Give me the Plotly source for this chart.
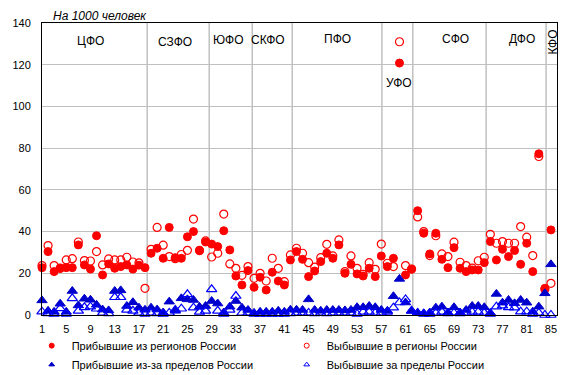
import plotly.graph_objects as go

regions = list(range(1, 86))

arrived_regions = [22.7, 30.4, 20.8, 22.3, 22.7, 22.7, 33.6, 24.0, 22.0, 38.0,
                   19.2, 24.5, 22.4, 23.2, 24.0, 22.0, 23.9, 22.7, 29.6, 32.0,
                   27.2, 42.0, 27.5, 27.2, 37.5, 40.0, 30.8, 35.0, 34.0, 32.8,
                   40.4, 31.2, 18.7, 14.4, 21.3, 13.3, 18.1, 12.0, 20.5, 16.3,
                   14.4, 26.4, 30.4, 26.7, 18.4, 21.1, 25.6, 29.6, 27.2, 33.6,
                   20.0, 24.3, 19.7, 18.7, 22.4, 18.4, 28.3, 23.2, 27.2, 120.8,
                   19.2, 22.0, 50.0, 39.2, 29.3, 39.2, 26.7, 22.7, 32.3, 22.4,
                   20.8, 21.6, 21.6, 25.1, 35.2, 26.4, 31.5, 28.0, 30.9, 24.3,
                   34.4, 20.8, 77.3, 12.8, 40.8]

left_regions = [23.7, 33.3, 23.7, 22.5, 26.4, 27.0, 35.0, 26.1, 25.9, 30.4,
                24.0, 26.9, 26.4, 26.4, 27.7, 25.4, 25.0, 12.8, 31.5, 42.0,
                33.5, 28.0, 27.0, 29.0, 31.0, 46.0, 31.0, 35.5, 27.8, 29.6,
                48.4, 24.5, 22.4, 19.0, 23.2, 17.6, 20.0, 16.3, 27.2, 22.4,
                16.0, 28.8, 32.0, 29.6, 25.1, 23.0, 27.5, 33.9, 28.3, 36.0,
                20.8, 28.3, 22.4, 19.5, 25.1, 21.9, 34.0, 24.8, 23.2, 131.0,
                23.7, 22.0, 47.0, 40.0, 28.5, 38.0, 29.3, 28.0, 34.9, 25.3,
                23.7, 22.5, 26.0, 27.7, 38.7, 34.4, 35.2, 34.4, 34.4, 42.4,
                37.3, 28.5, 76.0, 12.3, 15.2]

arrived_abroad = [7.0, 2.0, 1.5, 5.4, 1.5, 11.5, 4.6, 7.8, 7.3, 4.9,
                  2.6, 2.2, 11.5, 11.8, 4.3, 6.1, 3.5, 2.5, 3.5, 2.6,
                  1.2, 6.4, 2.0, 8.0, 7.5, 7.2, 3.9, 4.3, 6.7, 5.5,
                  1.2, 4.0, 6.7, 3.5, 2.4, 1.0, 1.5, 1.5, 1.5, 2.0,
                  1.5, 2.5, 2.5, 2.4, 7.5, 2.4, 2.0, 2.4, 2.4, 2.4,
                  2.2, 2.4, 3.7, 3.7, 4.3, 3.7, 2.4, 2.0, 9.0, 17.3,
                  6.0, 2.0, 1.0, 0.8, 1.2, 3.5, 4.0, 1.2, 3.7, 1.2,
                  2.4, 4.3, 4.3, 3.7, 1.0, 10.1, 5.9, 7.2, 5.6, 7.2,
                  5.9, 1.6, 4.0, 10.4, 24.3]

left_abroad = [1.6, 0.8, 0.5, 3.2, 0.5, 8.0, 2.0, 3.7, 4.0, 3.0,
               1.0, 0.8, 8.5, 8.5, 2.5, 2.0, 1.0, 0.5, 1.0, 0.8,
               0.5, 1.0, 2.4, 3.0, 9.9, 3.5, 1.5, 2.0, 12.3, 2.0,
               0.5, 2.5, 9.1, 1.0, 1.0, 0.5, 0.5, 0.5, 0.5, 0.5,
               0.5, 0.8, 1.0, 1.0, 1.0, 0.8, 1.0, 0.8, 1.0, 1.0,
               1.0, 1.0, 0.5, 1.5, 1.5, 1.0, 1.0, 1.5, 3.5, 6.0,
               7.5, 2.0, 1.0, 0.5, 0.5, 1.0, 1.5, 0.8, 1.0, 0.8,
               1.0, 1.5, 1.5, 1.0, 0.5, 4.0, 4.5, 3.7, 3.5, 1.6,
               1.6, 0.5, 1.0, 0.0, 0.0]

series_names = ["Прибывшие из регионов России", "Выбывшие в регионы России",
                "Прибывшие из-за пределов России", "Выбывшие за пределы России"]

district_names = ["ЦФО", "СЗФО", "ЮФО", "СКФО", "ПФО", "УФО", "СФО", "ДФО", "КФО"]
district_label_x = [9.05, 22.9, 31.8, 38.35, 49.8, 59.96, 69.2, 80.2, 85.4]
district_label_y = [131.6, 131.1, 131.9, 131.9, 132.4, 111.2, 132.3, 132.3, 130.8]
district_bounds = [18.36, 28.6, 35.7, 42.3, 57.1, 62.2, 74.3, 84.2]

x_ticks = list(range(1, 86, 4))
y_ticks = list(range(0, 141, 20))

RED = "#FF0000"
BLUE = "#0000CC"
BLUE_OPEN = "#0000FF"
FONT = "Arial, Liberation Sans, sans-serif"

styles = [
    dict(symbol="circle", color=RED, line=dict(width=1, color=RED), size=8),
    dict(symbol="circle-open", color=RED, line=dict(width=1.2, color=RED), size=8),
    dict(symbol="triangle-up", color=BLUE, line=dict(width=1, color=BLUE), size=9),
    dict(symbol="triangle-up-open", color=BLUE_OPEN, line=dict(width=1.2, color=BLUE_OPEN), size=9),
]
series_values = [arrived_regions, left_regions, arrived_abroad, left_abroad]

fig = go.Figure()
for name, vals, st in zip(series_names, series_values, styles):
    fig.add_trace(go.Scatter(x=regions, y=vals, mode="markers", name=name, showlegend=False,
                             marker=st, cliponaxis=False))
# legend entries with small symbols, as in the reference
for name, st in zip(series_names, styles):
    small = dict(st)
    small["size"] = 5
    small["line"] = dict(width=1, color=st["color"])
    fig.add_trace(go.Scatter(x=[None], y=[None], mode="markers", name=name, marker=small))

for b in district_bounds:
    fig.add_shape(type="line", xref="x", yref="paper", x0=b, x1=b, y0=0, y1=1,
                  line=dict(color="#C0C0C0", width=1.5), layer="below")

for name, lx, ly in zip(district_names, district_label_x, district_label_y):
    fig.add_annotation(x=lx, y=ly, xref="x", yref="y", text=name, showarrow=False,
                       font=dict(family=FONT, size=12, color="black"),
                       textangle=-90 if name == "КФО" else 0)

fig.add_annotation(x=0.018, y=1.025, xref="paper", yref="paper", text="<i>На 1000 человек</i>",
                   showarrow=False, xanchor="left", yanchor="middle",
                   font=dict(family=FONT, size=12, color="black"))

fig.update_layout(
    width=566, height=375,
    margin=dict(l=42, r=9, t=23, b=60, autoexpand=False),
    paper_bgcolor="white", plot_bgcolor="white",
    font=dict(family=FONT, size=11, color="black"),
    showlegend=True,
    legend=dict(orientation="h", xref="container", yref="container",
                x=0.056, y=0.117, xanchor="left", yanchor="top",
                entrywidth=210, entrywidthmode="pixels",
                font=dict(family=FONT, size=11, color="black"),
                itemwidth=30, tracegroupgap=0, bgcolor="rgba(0,0,0,0)"),
    xaxis=dict(range=[1, 86], tickvals=x_ticks, ticktext=[str(t) for t in x_ticks],
               showgrid=False, zeroline=False, showline=True, linecolor="black", linewidth=1,
               mirror=True, ticks="", ticklabelstandoff=4, automargin=False),
    yaxis=dict(range=[0, 140], tickvals=y_ticks, showgrid=True, gridcolor="#C0C0C0", gridwidth=1,
               zeroline=False, showline=True, linecolor="black", linewidth=1, mirror=True,
               ticks="", ticklabelstandoff=8, automargin=False),
)

fig.write_html("out.html", config={"displayModeBar": False},
               post_script="document.body.style.margin='0';document.body.style.overflow='hidden';")
